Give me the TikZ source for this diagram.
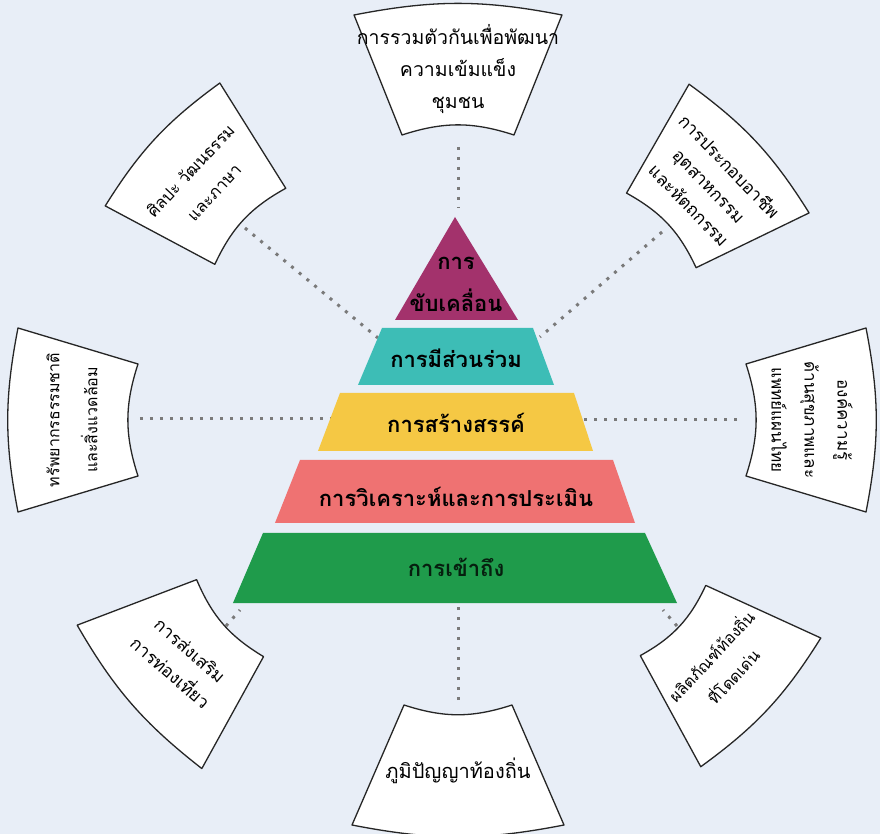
\documentclass[tikz,border=0pt]{standalone}
\usepackage{fontspec}
\newfontfamily\thai[Script=Thai]{Loma}
\definecolor{bgc}{HTML}{E8EEF7}
\definecolor{cmag}{HTML}{A3326C}
\definecolor{cteal}{HTML}{3DBDB6}
\definecolor{cyel}{HTML}{F5C844}
\definecolor{csal}{HTML}{EF7272}
\definecolor{cgrn}{HTML}{1F9B4B}
\definecolor{cdot}{HTML}{7A7A7A}
% #1 name, #2 angle, #3 distance, #4 text options, #5 inner half width, #6 outer half width, #7 text
\newcommand\ringbox[7]{%
  \begin{scope}[rotate=#2-90]
    \draw[boxshape] (-#5,#3-60) -- (-#6,#3+60) to[bend left=11] (#6,#3+60) -- (#5,#3-60) to[bend right=18] (-#5,#3-60) -- cycle;
    \node[boxtext, #4] (#1) at (0,#3+6) {#7};
  \end{scope}}
\begin{document}
\begin{tikzpicture}[x=1pt,y=1pt,
  boxshape/.style={draw=black!85, line width=1.3pt, fill=white, line join=round},
  boxtext/.style={align=center, text=black},
  fs/.style 2 args={font=\thai\fontsize{#1}{#2}\selectfont},
  pyrtext/.style={font=\thai\bfseries\fontsize{22}{30}\selectfont, text=black, align=center},
  dotline/.style={draw=cdot, line width=3pt, dash pattern=on 3pt off 7pt}]
\fill[bgc] (-458,-414) rectangle (422,420);
\useasboundingbox (-458,-414) rectangle (422,420);

% connector end points
\coordinate (tA) at (0,273);   \coordinate (tB) at (0,212);
\coordinate (ulA) at (-213,192); \coordinate (ulB) at (-80,82);
\coordinate (urA) at (204,188); \coordinate (urB) at (82,83);
\coordinate (rA) at (279,0);   \coordinate (rB) at (119,0);
\coordinate (lA) at (-318,1);  \coordinate (lB) at (-123,1);
\coordinate (bA) at (0,-280);  \coordinate (bB) at (0,-185);
\coordinate (llA) at (-232,-206); \coordinate (llB) at (-218,-190);
\coordinate (lrA) at (219,-206); \coordinate (lrB) at (205,-190);
\foreach \a/\b in {tA/tB,ulA/ulB,urA/urB,rA/rB,lA/lB,bA/bB,llA/llB,lrA/lrB}
  \draw[dotline] (\a) -- (\b);

% pyramid
\fill[cmag] (-3,203) -- (-63,100) -- (60,100) -- cycle;
\fill[cteal] (-76,92) -- (75,92) -- (96,35) -- (-100,35) -- cycle;
\fill[cyel] (-118,27) -- (116,27) -- (135,-31) -- (-140,-31) -- cycle;
\fill[csal] (-158,-40) -- (155,-40) -- (177,-103) -- (-183,-103) -- cycle;
\fill[cgrn] (-195,-113) -- (187,-113) -- (219,-183) -- (-225,-183) -- cycle;
\node[pyrtext] (p1a) at (-2,157) {การ};
\node[pyrtext] (p1b) at (-2,120) {ขับเคลื่อน};
\node[pyrtext] (p2) at (-2,62) {การมีส่วนร่วม};
\node[pyrtext] (p3) at (-2,-3) {การสร้างสรรค์};
\node[pyrtext] (p4) at (-2,-77) {การวิเคราะห์และการประเมิน};
\node[pyrtext, text=black!80!cgrn] (p5) at (-2,-147) {การเข้าถึง};

% surrounding boxes
\ringbox{bT}{90}{345}{rotate=0, fs={19.5}{32}}{56}{104}{การรวมตัวกันเพื่อพัฒนา\\ความเข้มแข็ง\\ชุมชน}
\ringbox{bUR}{43}{338}{rotate=-46, fs={17.5}{28}}{51}{88}{การประกอบอาชีพ\\อุตสาหกรรม\\และหัตถกรรม}
\ringbox{bR}{0}{348}{rotate=-90, fs={17}{33}}{56}{92}{องค์ความรู้\\ด้านสุขภาพและ\\แพทย์แผนไทย}
\ringbox{bLR}{-43}{354}{rotate=47, fs={16}{30}}{48}{88}{ผลิตภัณฑ์ท้องถิ่น\\ที่โดดเด่น}
\ringbox{bB}{-90}{345}{rotate=0, fs={20}{30}}{54}{106}{ภูมิปัญญาท้องถิ่น}
\ringbox{bLL}{-139}{362}{rotate=-41, fs={17.5}{30}}{51}{95}{การส่งเสริม\\การท่องเที่ยว}
\ringbox{bL}{180}{380}{rotate=90, fs={16}{38}}{56}{92}{ทรัพยากรธรรมชาติ\\และสิ่งแวดล้อม}
\ringbox{bUL}{137}{344}{rotate=47, fs={16.5}{32}}{52}{84}{ศิลปะ วัฒนธรรม\\และภาษา}
\end{tikzpicture}
\end{document}
